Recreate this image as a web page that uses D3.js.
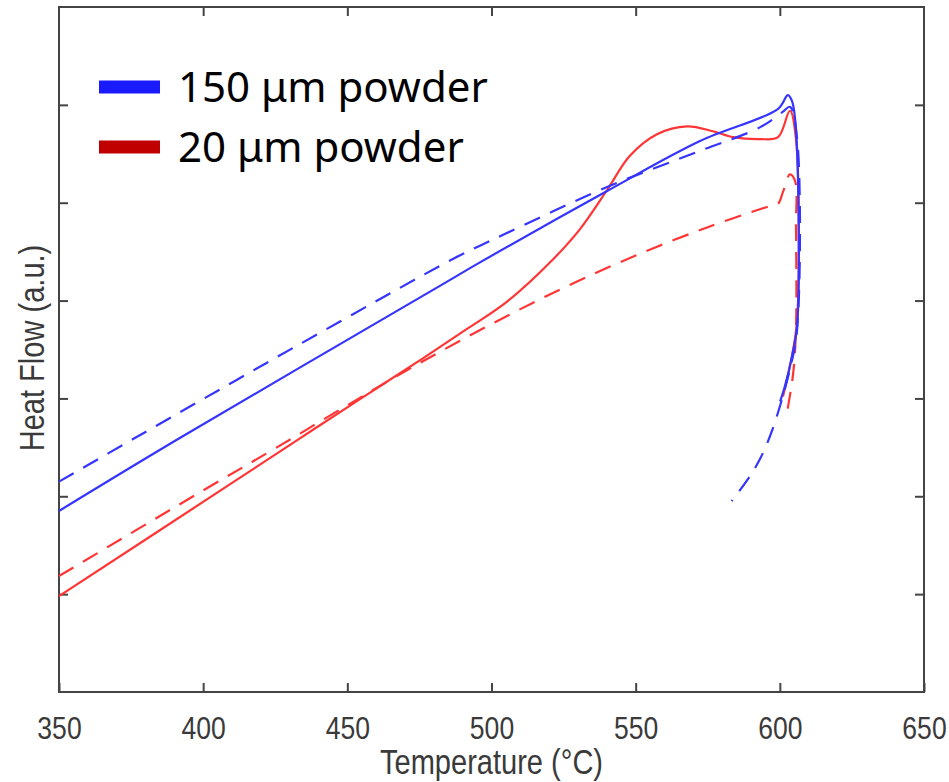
<!DOCTYPE html>
<html>
<head>
<meta charset="utf-8">
<script src="https://cdn.jsdelivr.net/npm/d3@7"></script>
<style>
  body { margin: 0; background: #fff; }
  svg { display: block; }
</style>
</head>
<body>
<svg id="chart" width="949" height="782"></svg>
<script>
// temperature (°C), heat flow (a.u.)
var blueSolid = [[350,1.85],[391.3,2.585],[482.1,4.15],[496,4.39],[540.1,5.12],[572.3,5.63],[599.4,5.96],
  [602.8,6.10],[604.2,6.04],[605.6,5.75],[606,3.74],[604.2,3.43],[601.8,3.13],[600.1,2.97]];
var blueDashed = [[350,2.15],[375.7,2.585],[433.6,3.556],[486.6,4.425],[496,4.56],[540.1,5.16],[572.3,5.53],
  [593.1,5.77],[601.1,5.93],[603.5,5.98],[606,5.65],[606,3.71],[603.5,3.30],[597.3,2.67],[593.1,2.38],
  [589.7,2.21],[583.3,1.95]];
var redSolid = [[350,0.98],[412.8,2.19],[438.1,2.68],[457.9,3.06],[476.2,3.41],[491.5,3.71],[505.4,3.99],
  [521.3,4.42],[530.7,4.73],[540.1,5.13],[548,5.48],[557.4,5.70],[567.8,5.78],[576.8,5.73],[583.8,5.67],
  [593.1,5.65],[599.4,5.67],[603.5,5.94],[605.6,5.65],[606,3.81],[604.2,3.43],[601.1,3.02]];
var redDashed = [[350,1.185],[400,2.06],[425,2.49],[450,2.93],[475,3.36],[500,3.76],[525,4.13],[550,4.46],
  [575,4.75],[597,4.97],[599.4,4.99],[601.1,5.11],[603.5,5.29],
  [605.3,5.22],[605.6,4.76],[605.6,3.71],[604.6,3.25],[602.1,2.79]];

var xTicks = [350,400,450,500,550,600,650];
var yTicks = [1,2,3,4,5,6];
var legendLabels = ["150 \u03bcm powder","20 \u03bcm powder"];

var svg = d3.select("#chart");
var margin = {left: 59, top: 7};
var width = 865, height = 685;
var g = svg.append("g").attr("transform", "translate(" + margin.left + "," + margin.top + ")");

var x = d3.scaleLinear().domain([350,650]).range([0,width]);
var y = d3.scaleLinear().domain([0,7]).range([height,0]);

var narrow = "scale(0.83,1)";
var tickLen = 9;
function styleAxis(sel) {
  sel.select(".domain").remove();
  sel.selectAll(".tick line").attr("stroke","#444").attr("stroke-width",2);
  sel.selectAll("text").attr("fill","#3a3a3a").attr("transform", narrow)
    .style("font-family","'Liberation Sans',Arial,sans-serif")
    .style("font-size","32px");
}

g.append("g").attr("transform","translate(0," + height + ")")
  .call(d3.axisBottom(x).tickValues(xTicks).tickSizeInner(-tickLen).tickSizeOuter(0).tickPadding(24).tickFormat(d3.format("d")))
  .call(styleAxis);
g.append("g")
  .call(d3.axisTop(x).tickValues(xTicks.slice(1,-1)).tickSizeInner(-tickLen).tickSizeOuter(0).tickFormat(""))
  .call(styleAxis);
g.append("g")
  .call(d3.axisLeft(y).tickValues(yTicks).tickSizeInner(-tickLen).tickSizeOuter(0).tickFormat(""))
  .call(styleAxis);
g.append("g").attr("transform","translate(" + width + ",0)")
  .call(d3.axisRight(y).tickValues(yTicks).tickSizeInner(-tickLen).tickSizeOuter(0).tickFormat(""))
  .call(styleAxis);

g.append("rect").attr("width",width).attr("height",height)
  .attr("fill","none").attr("stroke","#444").attr("stroke-width",2);

var line = d3.line()
  .x(function(d) { return x(d[0]); })
  .y(function(d) { return y(d[1]); })
  .curve(d3.curveCatmullRom.alpha(0.5));

var series = [
  {data: redDashed, color: "#ff3535", dash: "17,11"},
  {data: redSolid, color: "#ff3535", dash: null},
  {data: blueDashed, color: "#3535ff", dash: "17,11"},
  {data: blueSolid, color: "#3535ff", dash: null}
];

g.selectAll("path.series").data(series).enter()
  .append("path")
  .attr("class","series")
  .attr("d", function(d) { return line(d.data); })
  .attr("fill","none")
  .attr("stroke", function(d) { return d.color; })
  .attr("stroke-width", 2.2)
  .attr("stroke-dasharray", function(d) { return d.dash; });

// axis titles
svg.append("text")
  .attr("transform","translate(" + (margin.left + width/2) + ",774) " + narrow)
  .attr("text-anchor","middle").attr("fill","#3a3a3a")
  .style("font-family","'Liberation Sans',Arial,sans-serif")
  .style("font-size","35px")
  .text("Temperature (\u00b0C)");
svg.append("text")
  .attr("transform","translate(44,348) rotate(-90) " + narrow)
  .attr("text-anchor","middle").attr("fill","#3a3a3a")
  .style("font-family","'Liberation Sans',Arial,sans-serif")
  .style("font-size","35px")
  .text("Heat Flow (a.u.)");

// legend
var legendColors = ["#1a1aff","#c00000"];
var leg = svg.append("g");
legendLabels.forEach(function(t,i) {
  var yy = 87 + i*60;
  leg.append("rect").attr("x",99).attr("y",yy-6.5).attr("width",61).attr("height",13).attr("fill",legendColors[i]);
  leg.append("text").attr("x",178).attr("y",yy+15)
    .style("font-family","'Noto Sans',sans-serif").style("font-size","42px").attr("fill","#000")
    .text(t);
});
</script>
</body>
</html>
